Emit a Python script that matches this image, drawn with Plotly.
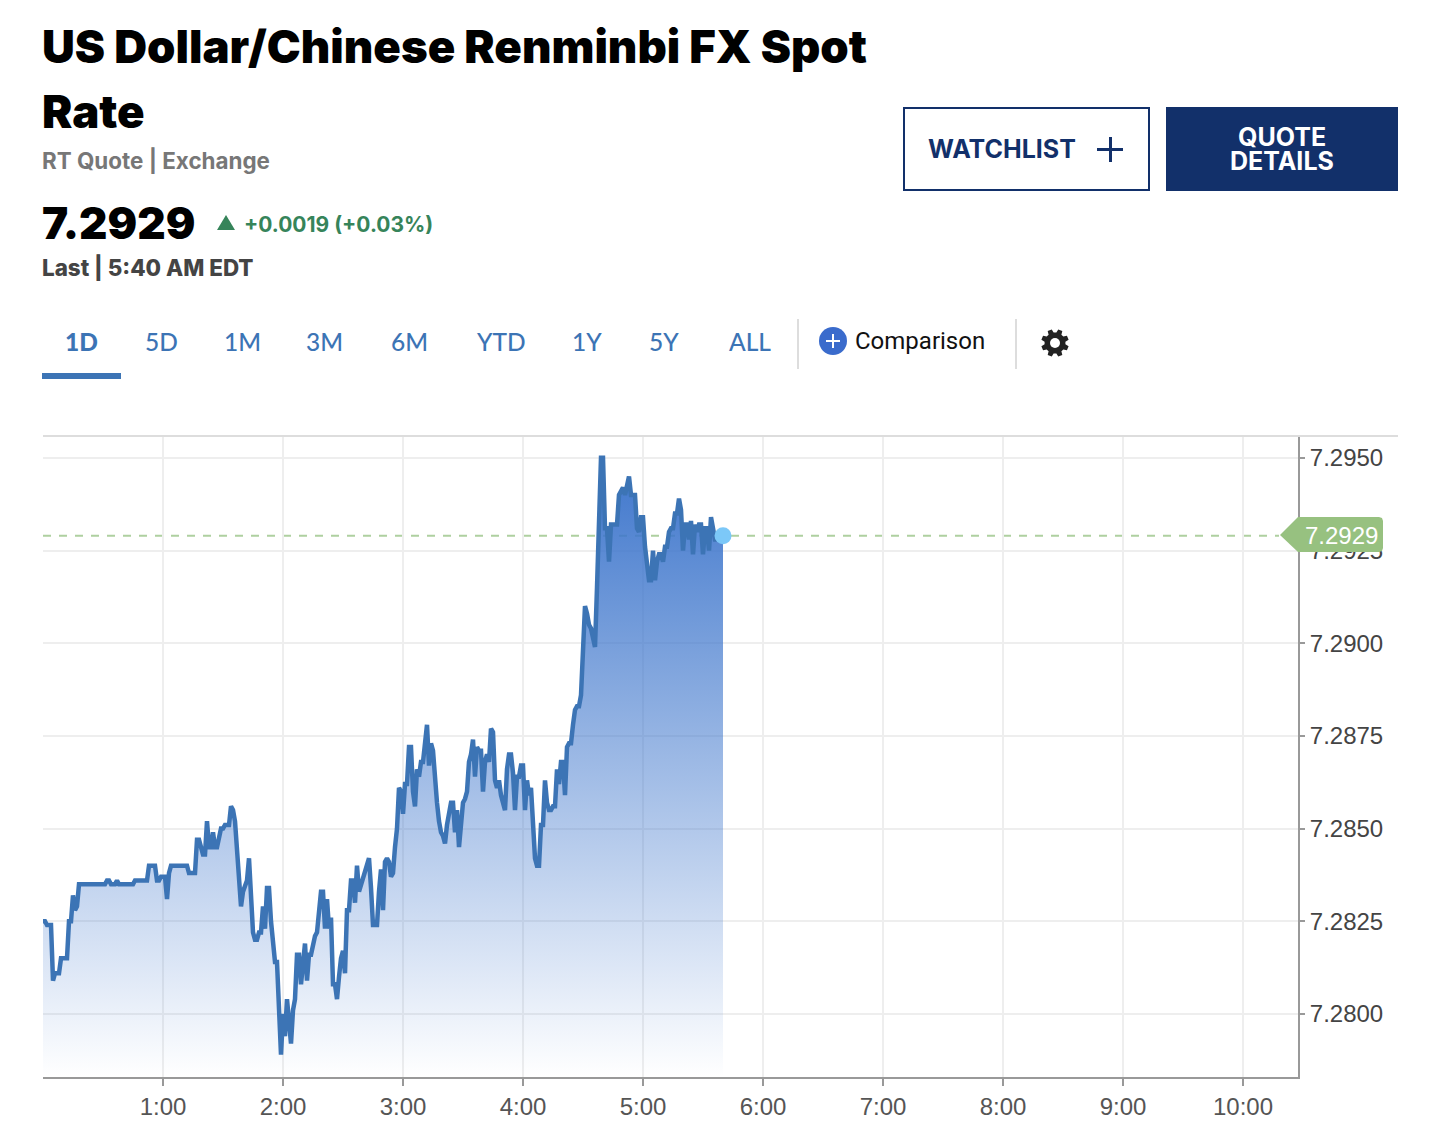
import math
import plotly.graph_objects as go

# rate for each minute of the session
rate = [
    7.2825, 7.2825, 7.2824, 7.2824, 7.2824, 7.2809, 7.2811, 7.2811, 7.2811, 7.2815,
    7.2815, 7.2815, 7.2815, 7.2825, 7.2825, 7.2832, 7.2828, 7.2829, 7.2835, 7.2835,
    7.2835, 7.2835, 7.2835, 7.2835, 7.2835, 7.2835, 7.2835, 7.2835, 7.2835, 7.2835,
    7.2835, 7.2835, 7.2836, 7.2836, 7.2835, 7.2835, 7.2835, 7.2836, 7.2835, 7.2835,
    7.2835, 7.2835, 7.2835, 7.2835, 7.2835, 7.2835, 7.2836, 7.2836, 7.2836, 7.2836,
    7.2836, 7.2836, 7.2836, 7.2840, 7.2840, 7.2840, 7.2840, 7.2836, 7.2836, 7.2837,
    7.2837, 7.2837, 7.2831, 7.2838, 7.2840, 7.2840, 7.2840, 7.2840, 7.2840, 7.2840,
    7.2840, 7.2840, 7.2840, 7.2838, 7.2838, 7.2838, 7.2838, 7.2847, 7.2847, 7.2845,
    7.2843, 7.2843, 7.2852, 7.2845, 7.2845, 7.2849, 7.2845, 7.2845, 7.2848, 7.2850,
    7.2850, 7.2851, 7.2851, 7.2851, 7.2856, 7.2855, 7.2852, 7.2843, 7.2835, 7.2829,
    7.2833, 7.2835, 7.2836, 7.2842, 7.2830, 7.2822, 7.2820, 7.2820, 7.2822, 7.2822,
    7.2829, 7.2823, 7.2834, 7.2834, 7.2825, 7.2820, 7.2814, 7.2814, 7.2801, 7.2789,
    7.2800, 7.2794, 7.2804, 7.2797, 7.2792, 7.2801, 7.2804, 7.2816, 7.2816, 7.2808,
    7.2814, 7.2819, 7.2809, 7.2816, 7.2816, 7.2819, 7.2821, 7.2822, 7.2827, 7.2833,
    7.2833, 7.2823, 7.2831, 7.2823, 7.2826, 7.2808, 7.2808, 7.2804, 7.2810, 7.2815,
    7.2817, 7.2811, 7.2828, 7.2828, 7.2836, 7.2836, 7.2830, 7.2840, 7.2833, 7.2835,
    7.2837, 7.2839, 7.2840, 7.2842, 7.2834, 7.2824, 7.2824, 7.2824, 7.2833, 7.2839,
    7.2828, 7.2841, 7.2842, 7.2841, 7.2837, 7.2838, 7.2845, 7.2850, 7.2861, 7.2860,
    7.2854, 7.2862, 7.2862, 7.2872, 7.2872, 7.2860, 7.2856, 7.2866, 7.2864, 7.2868,
    7.2868, 7.2874, 7.2878, 7.2867, 7.2873, 7.2871, 7.2863, 7.2857, 7.2852, 7.2849,
    7.2848, 7.2846, 7.2851, 7.2854, 7.2857, 7.2857, 7.2849, 7.2855, 7.2845, 7.2851,
    7.2857, 7.2858, 7.2860, 7.2868, 7.2870, 7.2874, 7.2864, 7.2872, 7.2871, 7.2871,
    7.2860, 7.2868, 7.2870, 7.2868, 7.2877, 7.2876, 7.2863, 7.2861, 7.2863, 7.2859,
    7.2857, 7.2855, 7.2866, 7.2870, 7.2870, 7.2865, 7.2855, 7.2864, 7.2864, 7.2867,
    7.2867, 7.2855, 7.2863, 7.2859, 7.2861, 7.2848, 7.2842, 7.2840, 7.2840, 7.2851,
    7.2851, 7.2863, 7.2857, 7.2855, 7.2855, 7.2856, 7.2856, 7.2866, 7.2862, 7.2868,
    7.2868, 7.2859, 7.2872, 7.2873, 7.2873, 7.2878, 7.2882, 7.2883, 7.2883, 7.2886,
    7.2900, 7.2910, 7.2908, 7.2905, 7.2904, 7.2902, 7.2899, 7.2915, 7.2931, 7.2950,
    7.2950, 7.2931, 7.2931, 7.2922, 7.2932, 7.2932, 7.2932, 7.2932, 7.2940, 7.2941,
    7.2942, 7.2940, 7.2943, 7.2945, 7.2940, 7.2940, 7.2940, 7.2931, 7.2930, 7.2934,
    7.2934, 7.2926, 7.2920, 7.2917, 7.2917, 7.2925, 7.2917, 7.2922, 7.2924, 7.2924,
    7.2922, 7.2926, 7.2926, 7.2930, 7.2931, 7.2931, 7.2935, 7.2935, 7.2939, 7.2936,
    7.2925, 7.2932, 7.2932, 7.2928, 7.2933, 7.2924, 7.2932, 7.2930, 7.2932, 7.2932,
    7.2924, 7.2931, 7.2931, 7.2925, 7.2934, 7.2931, 7.2928, 7.2928, 7.2928, 7.2929,
    7.2929,
]
minutes = list(range(len(rate)))

last_rate = 7.2929
x_ticks = [60, 120, 180, 240, 300, 360, 420, 480, 540, 600]
x_labels = ["1:00", "2:00", "3:00", "4:00", "5:00", "6:00", "7:00", "8:00", "9:00", "10:00"]
y_ticks = [7.2800, 7.2825, 7.2850, 7.2875, 7.2900, 7.2925, 7.2950]
y_labels = ["7.2800", "7.2825", "7.2850", "7.2875", "7.2900", "7.2925", "7.2950"]
tabs = ["1D", "5D", "1M", "3M", "6M", "YTD", "1Y", "5Y", "ALL"]
tab_centers = [81, 161, 242, 324, 409, 501, 587, 664, 750]

W, H = 1452, 1136
LEFT, RIGHT, TOP, BOTTOM = 43, 1298, 436, 1077
NAVY = "#12306a"
BLUE = "#3c74b5"
GREEN = "#36845a"
HEAVY = "Inter"
TAB_FONT = "Lato"


# page pixels -> paper coordinates
def px(x):
    return (x - LEFT) / (RIGHT - LEFT)


def py(y):
    return (BOTTOM - y) / (BOTTOM - TOP)


def label(x, y, text, size, color, font=HEAVY, weight=400, anchor="left"):
    fig.add_annotation(
        x=px(x), y=py(y), xref="paper", yref="paper", text=text, showarrow=False,
        xanchor=anchor, yanchor="middle", borderpad=0,
        font=dict(family=font, size=size, color=color, weight=weight),
    )


def box(x0, y0, x1, y1, fill=None, line=None, width=0):
    fig.add_shape(
        type="rect", xref="paper", yref="paper",
        x0=px(x0), y0=py(y0), x1=px(x1), y1=py(y1),
        fillcolor=fill, line=dict(color=line, width=width),
    )


def polygon(points, fill):
    path = "M " + " L ".join(f"{px(x)} {py(y)}" for x, y in points) + " Z"
    fig.add_shape(type="path", xref="paper", yref="paper", path=path,
                  fillcolor=fill, line=dict(width=0))


def disc(cx, cy, r, fill):
    fig.add_shape(type="circle", xref="paper", yref="paper", x0=px(cx - r), x1=px(cx + r),
                  y0=py(cy + r), y1=py(cy - r), fillcolor=fill, line=dict(width=0))


fig = go.Figure()

fig.add_trace(go.Scatter(
    x=minutes, y=rate, mode="lines", fill="tozeroy",
    line=dict(color=BLUE, width=4.5),
    fillgradient=dict(
        type="vertical", start=7.2783, stop=7.2950,
        colorscale=[[0, "rgba(62,118,204,0)"], [1, "rgba(62,118,204,1)"]],
    ),
    hoverinfo="skip", showlegend=False,
))
fig.add_trace(go.Scatter(
    x=[minutes[-1]], y=[last_rate], mode="markers",
    marker=dict(color="#7cc8f8", size=17),
    hoverinfo="skip", showlegend=False,
))

fig.update_layout(
    width=W, height=H, margin=dict(l=LEFT, r=W - RIGHT, t=TOP, b=H - BOTTOM),
    paper_bgcolor="white", plot_bgcolor="white", showlegend=False,
    xaxis=dict(
        range=[0, 627.5], tickvals=x_ticks, ticktext=x_labels, ticks="outside", ticklen=7,
        tickcolor="#999999", tickwidth=2, showgrid=True, gridcolor="#eeeeee", gridwidth=2,
        showline=True, linecolor="#999999", linewidth=2, zeroline=False,
        tickfont=dict(family="Liberation Sans", size=24, color="#555555"),
    ),
    yaxis=dict(
        range=[7.2783, 7.29559], side="right", tickvals=y_ticks, ticktext=y_labels,
        ticks="outside", ticklen=5, tickcolor="#999999", tickwidth=2, showgrid=True,
        gridcolor="#eeeeee", gridwidth=2, showline=True, linecolor="#999999", linewidth=2,
        zeroline=False, tickfont=dict(family="Liberation Sans", size=24, color="#444444"),
    ),
)

# last price line and badge, the line runs behind the area
fig.add_shape(type="line", xref="x", yref="y", x0=0, x1=618, y0=last_rate, y1=last_rate,
              layer="below", line=dict(color="#aed0a0", width=2, dash="8px 8px"))
polygon([(1280, 535), (1298, 517), (1379, 517), (1382, 518), (1383, 521), (1383, 548),
         (1382, 551), (1379, 552), (1298, 552)], "#97c180")
label(1341, 535, "7.2929", 24, "white", font="Liberation Sans", anchor="center")

# top border of the chart
fig.add_shape(type="line", xref="paper", yref="paper", x0=0, x1=px(1398), y0=1, y1=1,
              line=dict(color="#dddddd", width=2))

# header
label(41, 47, "US Dollar/Chinese Renminbi FX Spot", 45.5, "black", weight=900)
label(41, 112, "Rate", 45.5, "black", weight=900)
label(41, 160, "RT Quote | Exchange", 22.4, "#777777", weight=700)
label(41, 223, "7.2929", 44, "black", weight=900)
polygon([(226, 215), (235, 230), (217, 230)], GREEN)
label(243, 224, "+0.0019 (+0.03%)", 21, GREEN, weight=700)
label(41, 267, "Last | 5:40 AM EDT", 22.4, "#444444", weight=800)

# buttons
box(904, 108, 1149, 190, line=NAVY, width=2)
label(927, 149, "WATCHLIST", 25, NAVY, weight=700)
polygon([(1097, 148), (1109, 148), (1109, 137), (1112, 137), (1112, 148), (1123, 148),
         (1123, 151), (1112, 151), (1112, 162), (1109, 162), (1109, 151), (1097, 151)], NAVY)
box(1166, 107, 1398, 191, fill=NAVY)
label(1282, 137, "QUOTE", 25, "white", weight=700, anchor="center")
label(1282, 161, "DETAILS", 25, "white", weight=700, anchor="center")

# range tabs
for name, center in zip(tabs, tab_centers):
    label(center, 342, name, 24.5, BLUE, font=TAB_FONT, weight=900 if name == "1D" else 500,
          anchor="center")
box(42, 373, 121, 379, fill=BLUE)
box(797, 319, 799, 369, fill="#dddddd")
box(1015, 319, 1017, 369, fill="#dddddd")

# comparison and settings
disc(833, 341, 14, "#3a6bcc")
polygon([(826, 340), (832, 340), (832, 334), (834, 334), (834, 340), (840, 340),
         (840, 342), (834, 342), (834, 348), (832, 348), (832, 342), (826, 342)], "white")
label(854, 341, "Comparison", 24, "#111111", font="Roboto")

# gear icon: eight teeth round a disc with a hole
gear_points = []
for i in range(8):
    mid = math.radians(i * 45 + 22.5)
    for radius, spread in [(10.5, -15), (14, -9), (14, 9), (10.5, 15)]:
        angle = mid + math.radians(spread)
        gear_points.append((1055 + radius * math.cos(angle), 343 + radius * math.sin(angle)))
polygon(gear_points, "#222222")
disc(1055, 343, 5, "white")

fig.write_html("out.html", config=dict(displayModeBar=False),
               post_script="document.body.style.margin = '0';")
